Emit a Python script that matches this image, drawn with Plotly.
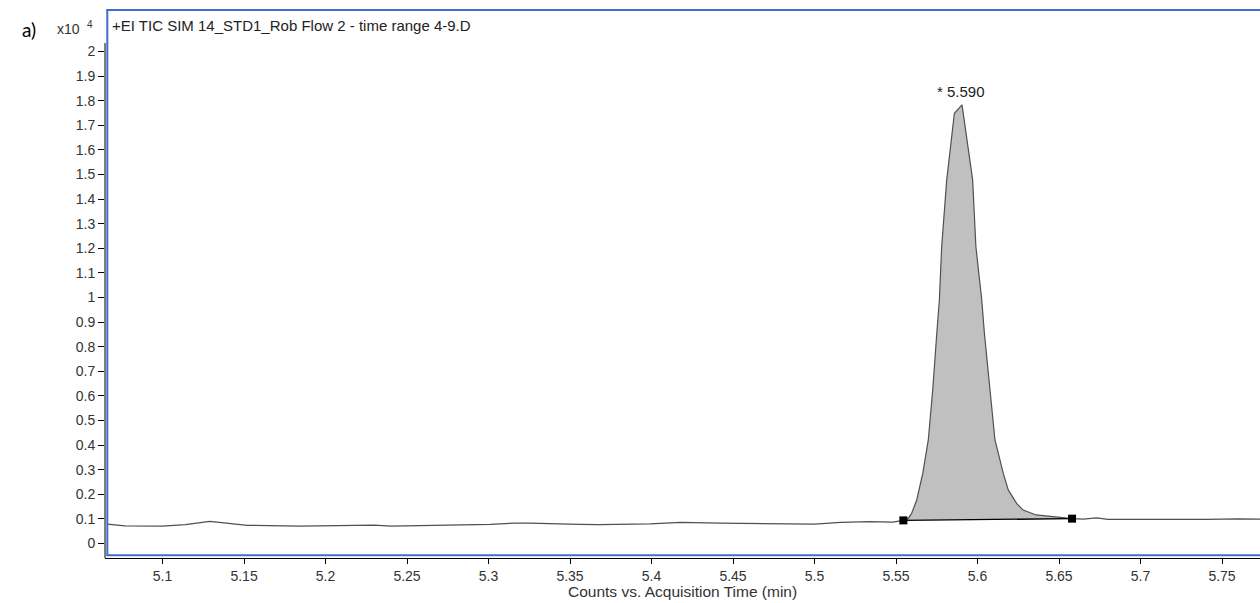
import plotly.graph_objects as go

# ---------------- data (intensity in counts x10^4) ----------------
time_min = [
    5.066, 5.077, 5.100, 5.114, 5.129, 5.140, 5.152, 5.184, 5.215, 5.230,
    5.240, 5.257, 5.295, 5.301, 5.316, 5.325, 5.356, 5.368, 5.399, 5.418,
    5.442, 5.467, 5.491, 5.500, 5.516, 5.534, 5.548, 5.5545,
    5.5575, 5.5596, 5.5627, 5.5664, 5.5698, 5.5725, 5.575, 5.5766, 5.578,
    5.5811, 5.5831, 5.5858, 5.5905, 5.5948, 5.597, 5.599, 5.6026, 5.6042,
    5.6077, 5.6107, 5.6158, 5.6189, 5.624, 5.628, 5.636, 5.6486, 5.658,
    5.665, 5.673, 5.680, 5.700, 5.720, 5.740, 5.760, 5.774,
]
counts_x1e4 = [
    0.079, 0.072, 0.071, 0.077, 0.090, 0.081, 0.074, 0.071, 0.074, 0.075,
    0.071, 0.073, 0.075, 0.078, 0.083, 0.083, 0.078, 0.077, 0.080, 0.086,
    0.083, 0.082, 0.082, 0.079, 0.086, 0.089, 0.087, 0.094,
    0.102, 0.123, 0.177, 0.285, 0.421, 0.624, 0.854, 0.990, 1.206,
    1.478, 1.593, 1.749, 1.783, 1.586, 1.478, 1.206, 0.990, 0.856,
    0.624, 0.421, 0.285, 0.217, 0.163, 0.136, 0.116, 0.106, 0.101,
    0.099, 0.104, 0.098, 0.097, 0.097, 0.098, 0.100, 0.099,
]
peak_rt_label = "* 5.590"
peak_rt = 5.590
peak_top = 1.783
integ_start = (5.5545, 0.094)
integ_end = (5.658, 0.101)

x_ticks = [5.1, 5.15, 5.2, 5.25, 5.3, 5.35, 5.4, 5.45, 5.5, 5.55, 5.6, 5.65, 5.7, 5.75]
x_ticktext = ["5.1", "5.15", "5.2", "5.25", "5.3", "5.35", "5.4", "5.45", "5.5",
              "5.55", "5.6", "5.65", "5.7", "5.75"]
y_ticks = [i / 10 for i in range(0, 21)]
y_ticktext = ["0", "0.1", "0.2", "0.3", "0.4", "0.5", "0.6", "0.7", "0.8", "0.9", "1",
              "1.1", "1.2", "1.3", "1.4", "1.5", "1.6", "1.7", "1.8", "1.9", "2"]

title_text = "+EI TIC SIM 14_STD1_Rob Flow 2 - time range 4-9.D"
x_title = "Counts vs. Acquisition Time (min)"

FONT = "Liberation Sans, Arial, sans-serif"
TXT = "#333333"

# Plot area in window pixels: left 105, top 8, bottom 558 (body margin removed)
H = 550.0
W = 1155.0


def py(pix):
    return (558 - pix) / H


def pxp(pix):
    return (pix - 105) / W


# ---------------- figure ----------------
fig = go.Figure()

# integrated area polygon (curve between integration points, closed by baseline)
fx = [integ_start[0]]
fy = [integ_start[1]]
for t, c in zip(time_min, counts_x1e4):
    if integ_start[0] < t < integ_end[0]:
        fx.append(t)
        fy.append(c)
fx += [integ_end[0], integ_start[0]]
fy += [integ_end[1], integ_start[1]]
fig.add_trace(go.Scatter(x=fx, y=fy, mode="lines", fill="toself",
                         fillcolor="#c0c0c0", line=dict(width=0),
                         hoverinfo="skip", showlegend=False))

# chromatogram
fig.add_trace(go.Scatter(x=time_min, y=counts_x1e4, mode="lines",
                         line=dict(color="#505050", width=1.2),
                         showlegend=False))

# integration baseline and markers
fig.add_trace(go.Scatter(x=[integ_start[0], integ_end[0]],
                         y=[integ_start[1], integ_end[1]],
                         mode="lines+markers",
                         line=dict(color="black", width=1.3),
                         marker=dict(symbol="square", size=8, color="black"),
                         showlegend=False))

fig.update_layout(
    width=1260, height=603,
    margin=dict(l=105, r=0, t=8, b=45),
    paper_bgcolor="white", plot_bgcolor="white",
    font=dict(family=FONT, size=14, color=TXT),
    xaxis=dict(range=[5.0647, 5.7733], tickvals=x_ticks, ticktext=x_ticktext,
               showgrid=False, zeroline=False, showline=True, linecolor="black",
               linewidth=1, ticks="outside", ticklen=5, tickcolor="black",
               tickfont=dict(family=FONT, size=14, color=TXT),
               automargin=False),
    yaxis=dict(range=[-0.0589, 2.1768], tickvals=y_ticks, ticktext=y_ticktext,
               showgrid=False, zeroline=False, showline=False,
               ticks="outside", ticklen=6, tickcolor="black",
               tickfont=dict(family=FONT, size=14, color=TXT),
               automargin=False),
)

# y axis line (starts a bit below the plot top)
fig.add_shape(type="line", xref="paper", yref="paper", x0=0, x1=0,
              y0=0, y1=py(43), line=dict(color="black", width=1))
# blue frame: left, top and bottom edges (right edge lies outside the window)
BLUE = dict(color="#3e6fc6", width=2)
fig.add_shape(type="line", xref="paper", yref="paper", x0=pxp(107.3), x1=pxp(107.3),
              y0=py(555.3), y1=py(10), line=BLUE, layer="above")
fig.add_shape(type="line", xref="paper", yref="paper", x0=pxp(106.3), x1=1.05,
              y0=py(10), y1=py(10), line=BLUE, layer="above")
fig.add_shape(type="line", xref="paper", yref="paper", x0=pxp(106.3), x1=1.05,
              y0=py(555.3), y1=py(555.3), line=BLUE, layer="above")

fig.add_annotation(text=title_text, xref="paper", yref="paper",
                   x=pxp(110), y=py(26), xanchor="left", yanchor="middle",
                   showarrow=False, font=dict(family=FONT, size=15, color="#222222"))
fig.add_annotation(text=peak_rt_label, x=peak_rt, y=peak_top, xref="x", yref="y",
                   yshift=3, yanchor="bottom", xanchor="center", showarrow=False,
                   font=dict(family=FONT, size=15, color="#222222"))
fig.add_annotation(text=x_title, xref="paper", yref="paper",
                   x=0.5, y=py(591), xanchor="center", yanchor="middle",
                   showarrow=False, font=dict(family=FONT, size=15.5, color=TXT))
fig.add_annotation(text="x10", xref="paper", yref="paper",
                   x=pxp(82), y=py(29), xanchor="right", yanchor="middle",
                   showarrow=False, font=dict(family=FONT, size=14, color=TXT))
fig.add_annotation(text="4", xref="paper", yref="paper",
                   x=pxp(89.5), y=py(25), xanchor="center", yanchor="middle",
                   showarrow=False, font=dict(family=FONT, size=10, color=TXT))
fig.add_annotation(text="a)", xref="paper", yref="paper",
                   x=pxp(20), y=py(29), xanchor="left", yanchor="middle",
                   showarrow=False, font=dict(family="Lato, Open Sans, sans-serif",
                                              size=19, color="black"))

fig.write_html(
    "out.html",
    config={"displayModeBar": False},
    post_script="document.body.style.margin='0';document.body.style.overflow='hidden';",
)
